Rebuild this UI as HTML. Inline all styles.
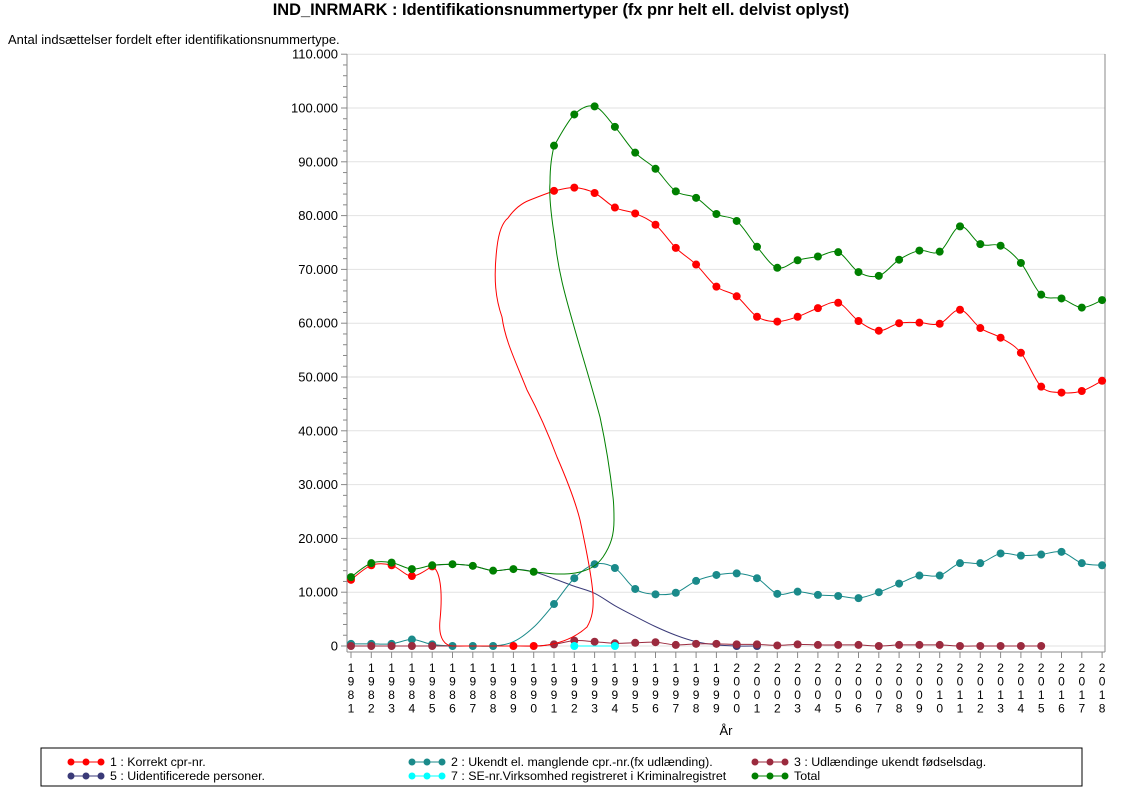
<!DOCTYPE html>
<html><head><meta charset="utf-8"><style>
body{margin:0;background:#fff;}
svg{display:block;font-family:"Liberation Sans",Arial,sans-serif;}
</style></head><body>
<svg id="s" width="1122" height="793" viewBox="0 0 1122 793" xmlns="http://www.w3.org/2000/svg">
<text x="561" y="15" text-anchor="middle" font-size="16.4" font-weight="bold">IND_INRMARK : Identifikationsnummertyper (fx pnr helt ell. delvist oplyst)</text>
<text x="8" y="44" font-size="13">Antal indsættelser fordelt efter identifikationsnummertype.</text>
<g id="grid"></g>
<g id="axes"></g>
<g id="ser"></g>
<rect x="41" y="748" width="1041" height="38" fill="none" stroke="#000" stroke-width="1"/>
<g id="leg" font-size="12.4"></g>
</svg>
<script>
const NS="http://www.w3.org/2000/svg";
function el(p,t,a,txt){const e=document.createElementNS(NS,t);for(const k in a)e.setAttribute(k,a[k]);if(txt!=null)e.textContent=txt;document.getElementById(p).appendChild(e);return e;}
const X=y=>351+(y-1981)*20.3, Y=v=>646-v*5.38;
for(let v=0;v<=110;v+=10){el("grid","line",{x1:347,x2:1105,y1:Y(v),y2:Y(v),stroke:"#e2e2e2"});
 el("axes","text",{x:338,y:Y(v)+4.5,"text-anchor":"end","font-size":13},v==0?"0":v+".000");}
for(let v=0;v<=110;v+=2){el("axes","line",{x1:v%10==0?341:343,x2:347,y1:Y(v),y2:Y(v),stroke:"#888"});}
el("axes","line",{x1:347,x2:347,y1:54,y2:652,stroke:"#888"});
el("axes","line",{x1:347,x2:1105,y1:652,y2:652,stroke:"#888"});
el("axes","line",{x1:1105,x2:1105,y1:54,y2:652,stroke:"#888"});
for(let y=1981;y<=2018;y++){const x=X(y);el("axes","line",{x1:x,x2:x,y1:652,y2:658,stroke:"#888"});
 const s=String(y);for(let i=0;i<4;i++)el("axes","text",{x:x,y:672+i*13.5,"text-anchor":"middle","font-size":12},s[i]);}
el("axes","text",{x:726,y:735,"text-anchor":"middle","font-size":13},"År");
function cr(pts){let d="M"+pts[0][0]+","+pts[0][1];for(let i=0;i<pts.length-1;i++){const p0=pts[Math.max(0,i-1)],p1=pts[i],p2=pts[i+1],p3=pts[Math.min(pts.length-1,i+2)];
 d+=" C"+(p1[0]+(p2[0]-p0[0])/6)+","+(p1[1]+(p2[1]-p0[1])/6)+" "+(p2[0]-(p3[0]-p1[0])/6)+","+(p2[1]-(p3[1]-p1[1])/6)+" "+p2[0]+","+p2[1];}return d;}
function series(col,start,vals,dots,extraPath){
 const pts=vals.map((v,i)=>[X(start+i),Y(v)]);
 if(extraPath)el("ser","path",{d:extraPath,fill:"none",stroke:col,"stroke-width":1});
 else el("ser","path",{d:cr(pts),fill:"none",stroke:col,"stroke-width":1});
 pts.forEach((p,i)=>{if(!dots||dots(start+i))el("ser","circle",{cx:p[0],cy:p[1],r:4,fill:col});});}
series("#3a3a78",1985,[15,15.2,14.9,14,14.3,13.8,12.5,11.1,9.8,7.5,5.5,3.6,2,0.8,0.2,0,0],y=>y>=2000);
series("#1a8a8a",1981,[0.4,0.4,0.4,1.2,0.3,0,0,0,0.8,3.5,7.8,12.6,15.2,14.5,10.6,9.6,9.9,12.1,13.2,13.5,12.6,9.7,10.1,9.5,9.3,8.9,10,11.6,13.1,13.1,15.4,15.4,17.2,16.8,17,17.5,15.4,15],y=>y!=1989&&y!=1990);
series("#9b2a3e",1981,[0,0,0,0,0,0,0,0,0,0,0.3,1,0.8,0.5,0.6,0.7,0.2,0.4,0.4,0.3,0.3,0.1,0.3,0.2,0.2,0.2,0,0.2,0.2,0.2,0,0,0,0,0],y=>y<1986||y>1990);
series("#00ffff",1992,[0,0,0],y=>y!=1993);
const red=[12.3,15,15,13,14.8];const redL=[84.6,85.2,84.2,81.5,80.4,78.3,74,70.9,66.8,65,61.2,60.3,61.2,62.8,63.8,60.4,58.6,60,60.1,59.9,62.5,59.1,57.3,54.5,48.2,47.1,47.4,49.3];
let rp=cr(red.map((v,i)=>[X(1981+i),Y(v)]))+" C440,570 443,590 440,620 C438,640 446,646 453,646 L540,646 C560,644 575,638 587,627 C597,610 595,590 580,520 C575,500 567,480 557,457 C545,425 535,405 527,390 C515,360 505,340 502,317 C496,300 493,280 497,247 C499,230 503,222 508,218 C515,208 522,203 530,200 C540,196 548,193 554,191 ";
rp+=cr(redL.map((v,i)=>[X(1991+i),Y(v)])).replace(/^[^C]*/,"");
series("#ff0000",1981,red.concat([0,0,0,0,0],redL),y=>!(y>=1986&&y<=1988),rp);
const g1=[12.8,15.4,15.5,14.3,15,15.2,14.9,14,14.3,13.8];const g2=[93,98.8,100.3,96.5,91.7,88.7,84.5,83.3,80.3,79,74.2,70.3,71.7,72.4,73.2,69.5,68.8,71.8,73.5,73.3,78,74.7,74.4,71.2,65.3,64.6,62.9,64.3];
let gp=cr(g1.map((v,i)=>[X(1981+i),Y(v)]))+" C545,573 550,574 557,574 C566,574 573,574 580,572 C592,569 598,564 603,557 C611,545 614,535 614,520 C614,510 614,505 613,497 C610,470 606,445 600,417 C590,380 582,355 573,323 C565,295 558,270 555,240 C551,215 549,195 550,183 C550,165 552,155 554,146 ";
gp+=cr(g2.map((v,i)=>[X(1991+i),Y(v)])).replace(/^[^C]*/,"");
series("#008000",1981,g1.concat(g2),null,gp);
const L=[[68,766,"#ff0000","1 : Korrekt cpr-nr."],[409,766,"#1a8a8a","2 : Ukendt el. manglende cpr.-nr.(fx udlænding)."],[752,766,"#9b2a3e","3 : Udlændinge ukendt fødselsdag."],
[68,780,"#3a3a78","5 : Uidentificerede personer."],[409,780,"#00ffff","7 : SE-nr.Virksomhed registreret i Kriminalregistret"],[752,780,"#008000","Total"]];
L.forEach(([x,y,c,t])=>{el("leg","line",{x1:x+3,x2:x+33,y1:y-4,y2:y-4,stroke:c});[3,18,33].forEach(d=>el("leg","circle",{cx:x+d,cy:y-4,r:3.5,fill:c}));
 el("leg","text",{x:x+42,y:y},t);});
</script>
</body></html>
